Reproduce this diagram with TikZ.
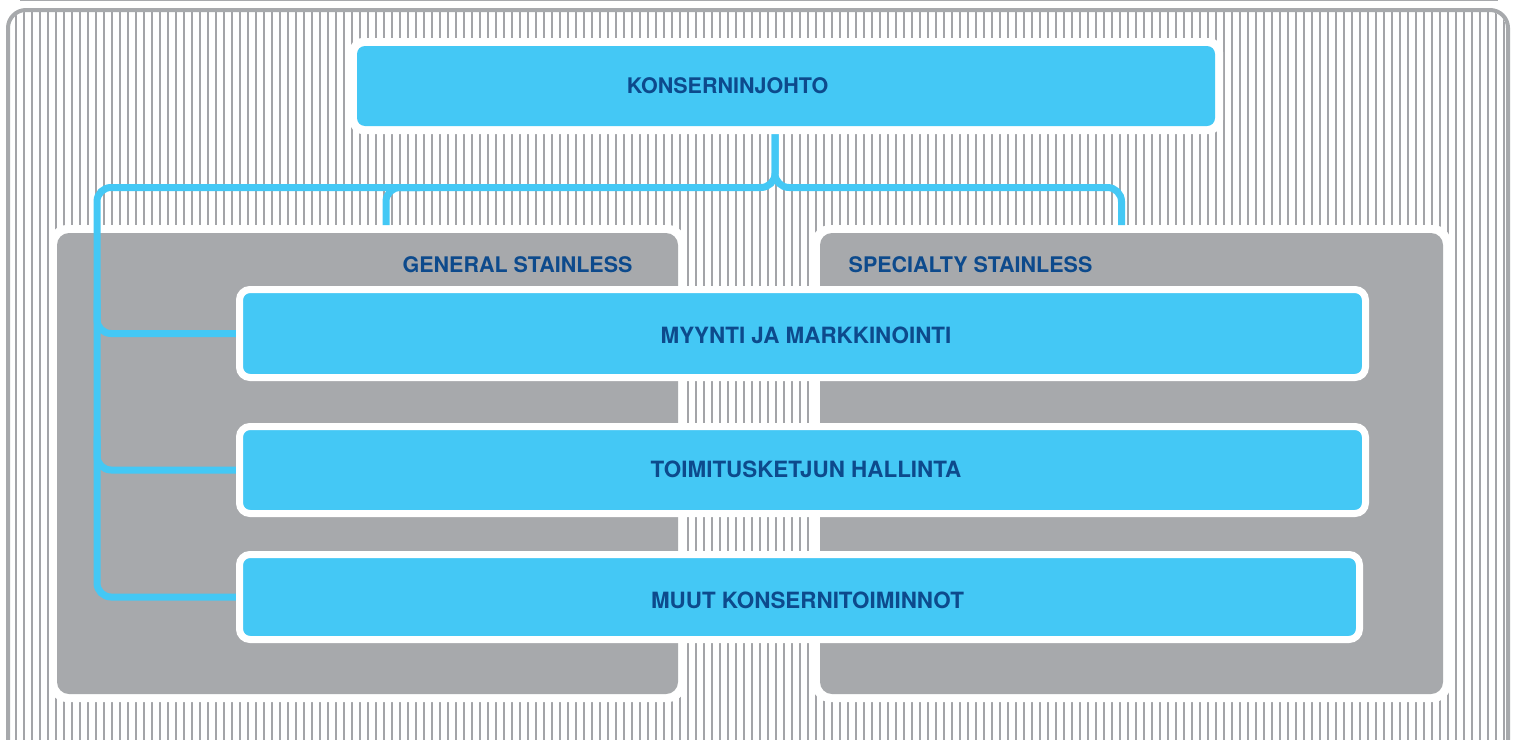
\documentclass[tikz,border=0pt]{standalone}
\usepackage{fontspec}
\setmainfont{TeX Gyre Heros}
\definecolor{cblue}{HTML}{44C8F5}
\definecolor{boxgray}{HTML}{A7A9AC}
\definecolor{framegray}{HTML}{A7A9AC}
\definecolor{stripegray}{HTML}{A3A4A8}
\definecolor{txtblue}{HTML}{0D4A8C}
\begin{document}
\begin{tikzpicture}[x=1pt,y=-1pt,
  lbl/.style={text=txtblue, font=\bfseries\fontsize{21.5}{25}\selectfont, inner sep=0pt},
  lblb/.style={text=txtblue, font=\bfseries\fontsize{22.4}{26}\selectfont, inner sep=0pt},
  margin/.style={fill=white, draw=none, rounded corners=18pt, inner sep=0pt, outer sep=0pt},
  graybox/.style={fill=boxgray, draw=none, rounded corners=12pt, inner sep=0pt, outer sep=0pt},
  topbox/.style={fill=cblue, draw=none, rounded corners=8pt, inner sep=0pt, outer sep=0pt},
  bluebox/.style={fill=cblue, draw=white, line width=7pt, rounded corners=10.5pt, inner sep=0pt},
  conn/.style={draw=cblue, line width=7pt, rounded corners=14pt},
  stripe/.style={draw=stripegray, line width=1.1pt}]
\useasboundingbox (0,0) rectangle (1518,739);
\clip (0,0) rectangle (1518,739);
\fill[white] (0,0) rectangle (1518,739);
% previous frame edge at the top
\draw[framegray, line width=2pt] (20,0) -- (1498,0);
% stripes
\begin{scope}
  \clip[rounded corners=16pt] (10,12) rectangle (1506,770);
  \foreach \x in {16,24,...,1504} \draw[stripe] (\x,0) -- (\x,760);
\end{scope}
% frame
\draw[framegray, line width=4pt, rounded corners=18pt] (8,10) rectangle (1508,770);
% gray unit boxes
\node[margin, minimum width=637pt, minimum height=477pt] (gsm) at (367.5,463.5) {};
\node[margin, minimum width=639pt, minimum height=477pt] (ssm) at (1131.5,463.5) {};
\node[graybox, minimum width=621pt, minimum height=461pt] (gs) at (367.5,463.5) {};
\node[graybox, minimum width=623pt, minimum height=461pt] (ss) at (1131.5,463.5) {};
\node[lbl] (gst) at (517.5,265) {GENERAL STAINLESS};
\node[lbl] (sst) at (970.5,265) {SPECIALTY STAINLESS};
% top box
\node[topbox, minimum width=858pt, minimum height=80pt] (kon) at (786,86) {};
% connector corner coordinates
\coordinate (j) at (775,187.5);
\coordinate (lc) at (97,187.5);
\coordinate (ld) at (386,187.5);
\coordinate (rd) at (1121.5,187.5);
\path (802.5,333.5) coordinate (myyc) (802.5,470) coordinate (toic) (799.5,597) coordinate (muuc);
% anchors of the function boxes
\node[bluebox, draw=none, fill=none, minimum width=1126pt, minimum height=88pt] (myy) at (myyc) {};
\node[bluebox, draw=none, fill=none, minimum width=1126pt, minimum height=87pt] (toi) at (toic) {};
\node[bluebox, draw=none, fill=none, minimum width=1120pt, minimum height=85pt] (muu) at (muuc) {};
% connectors
\draw[conn] (kon.south -| j) -- (j) -- (lc) -- (muu.west -| lc) -- (muu.west);
\draw[conn] (kon.south -| j) -- (j) -- (rd) -- (rd |- ssm.north);
\draw[conn] (ld) ++(34,0) -- (ld) -- (ld |- gsm.north);
\draw[conn] (97,300) -- (myy.west -| lc) -- (myy.west);
\draw[conn] (97,436) -- (toi.west -| lc) -- (toi.west);
% top box white margin and box
\node[margin, rounded corners=14pt, minimum width=874pt, minimum height=96pt] (kmar) at (kon) {};
\node[topbox, minimum width=858pt, minimum height=80pt] (kon2) at (kon) {};
\node[lbl] (kont) at (727.5,86) {KONSERNINJOHTO};
% blue function boxes
\node[bluebox, minimum width=1126pt, minimum height=88pt] (myyb) at (myyc) {};
\node[bluebox, minimum width=1126pt, minimum height=87pt] (toib) at (toic) {};
\node[bluebox, minimum width=1120pt, minimum height=85pt] (muub) at (muuc) {};
\node[lblb] (myyt) at (806,335) {MYYNTI JA MARKKINOINTI};
\node[lblb] (toit) at (806,469) {TOIMITUSKETJUN HALLINTA};
\node[lblb] (muut) at (807.5,600) {MUUT KONSERNITOIMINNOT};
\end{tikzpicture}
\end{document}
